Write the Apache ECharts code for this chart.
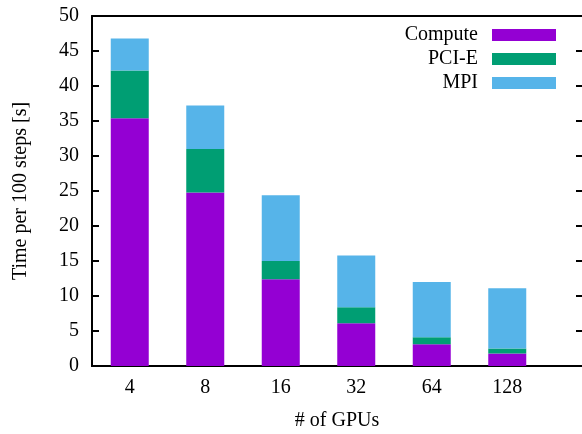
<!DOCTYPE html>
<html>
<head>
<meta charset="utf-8">
<script src="https://cdn.jsdelivr.net/npm/echarts@6/dist/echarts.min.js"></script>
<style>html,body{margin:0;padding:0;background:#fff}#c{width:582px;height:434px}</style>
</head>
<body>
<div id="c"></div>
<script>
var categories = ['4', '8', '16', '32', '64', '128'];
var compute = [35.4, 24.8, 12.4, 6.1, 3.1, 1.8];
var pcie = [6.8, 6.2, 2.6, 2.3, 1.0, 0.7];
var mpi = [4.6, 6.2, 9.4, 7.4, 7.9, 8.6];
var yTicks = { min: 0, max: 50, interval: 5 };

var font = 'Liberation Serif';
var chart = echarts.init(document.getElementById('c'), null, { renderer: 'canvas' });
var lineStyle = { color: '#000', width: 2 };
chart.setOption({
  animation: false,
  backgroundColor: '#fff',
  grid: [
    { left: 92, width: 453, top: 16, height: 350, containLabel: false },
    { left: 92, right: 0, top: 16, height: 350, containLabel: false }
  ],
  legend: {
    orient: 'vertical', align: 'right', right: 26, top: 25, padding: 0,
    itemWidth: 64, itemHeight: 12, itemGap: 4,
    icon: 'rect',
    textStyle: { fontFamily: font, fontSize: 20, color: '#000', padding: [0, 9, 0, 0] },
    data: ['Compute', 'PCI-E', 'MPI']
  },
  xAxis: [{
    gridIndex: 0, type: 'category', data: categories, position: 'bottom',
    axisLine: { lineStyle: lineStyle },
    axisTick: { inside: true, length: 7, alignWithLabel: true, lineStyle: lineStyle },
    axisLabel: { fontFamily: font, fontSize: 20, color: '#000', margin: 12 },
    splitLine: { show: false }
  }, {
    gridIndex: 0, type: 'category', data: categories, position: 'top',
    axisLine: { lineStyle: lineStyle },
    axisTick: { inside: true, length: 7, alignWithLabel: true, lineStyle: lineStyle },
    axisLabel: { show: false },
    splitLine: { show: false }
  }, {
    gridIndex: 1, type: 'value', position: 'bottom', min: 0, max: 1,
    axisLine: { lineStyle: lineStyle }, axisTick: { show: false }, axisLabel: { show: false }, splitLine: { show: false }
  }, {
    gridIndex: 1, type: 'value', position: 'top', min: 0, max: 1,
    axisLine: { lineStyle: lineStyle }, axisTick: { show: false }, axisLabel: { show: false }, splitLine: { show: false }
  }],
  yAxis: [{
    gridIndex: 0, type: 'value', min: yTicks.min, max: yTicks.max, interval: yTicks.interval, position: 'left',
    name: 'Time per 100 steps [s]', nameLocation: 'middle', nameRotate: 90, nameGap: 61,
    nameTextStyle: { fontFamily: font, fontSize: 20, color: '#000' },
    axisLine: { show: true, lineStyle: lineStyle },
    axisTick: { show: true, inside: true, length: 7, lineStyle: lineStyle },
    axisLabel: { fontFamily: font, fontSize: 20, color: '#000', margin: 13 },
    splitLine: { show: false }
  }, {
    gridIndex: 0, type: 'value', min: yTicks.min, max: yTicks.max, interval: yTicks.interval, position: 'right', offset: 38,
    axisLine: { show: true, lineStyle: lineStyle },
    axisTick: { show: true, inside: true, length: 7, lineStyle: lineStyle },
    axisLabel: { show: false },
    splitLine: { show: false }
  }, {
    gridIndex: 1, type: 'value', min: yTicks.min, max: yTicks.max, show: false
  }],
  graphic: [{
    type: 'text', x: 337, y: 421,
    style: { text: '# of GPUs', fontFamily: font, fontSize: 20, fill: '#000', align: 'center', verticalAlign: 'middle' }
  }],
  series: [
    { name: 'Compute', type: 'bar', stack: 't', data: compute, barWidth: 38, itemStyle: { color: '#9400D3' } },
    { name: 'PCI-E', type: 'bar', stack: 't', data: pcie, barWidth: 38, itemStyle: { color: '#009E73' } },
    { name: 'MPI', type: 'bar', stack: 't', data: mpi, barWidth: 38, itemStyle: { color: '#56B4E9' } }
  ]
});
</script>
</body>
</html>
